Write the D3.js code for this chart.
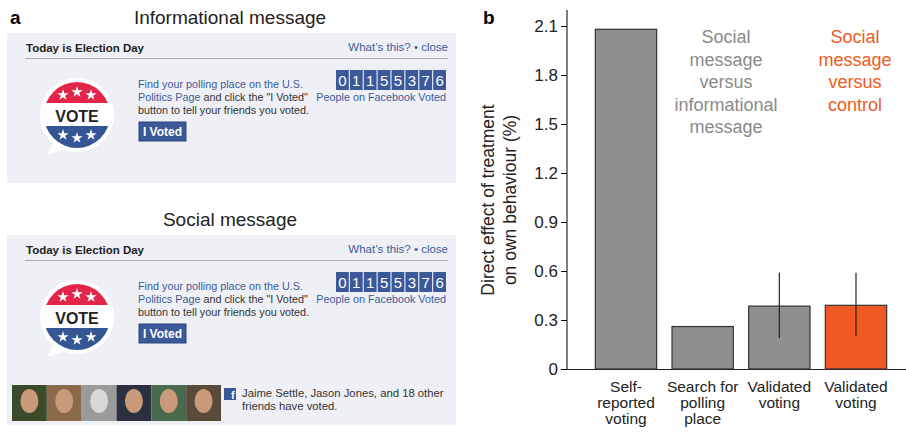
<!DOCTYPE html>
<html><head><meta charset="utf-8">
<script src="https://cdn.jsdelivr.net/npm/d3@7"></script>
<style>body{margin:0;background:#fff;font-family:"Liberation Sans",Arial,sans-serif}</style>
</head><body><div id="chart"></div>
<script>
// Panel b data
const categories = ["Self-reported voting", "Search for polling place", "Validated voting", "Validated voting (control)"];
const catLabels = [["Self-", "reported", "voting"], ["Search for", "polling", "place"], ["Validated", "voting"], ["Validated", "voting"]];
const effects = [2.08, 0.26, 0.385, 0.39];
const errLow = [null, null, 0.19, 0.20];
const errHigh = [null, null, 0.59, 0.59];
const yTicks = [0, 0.3, 0.6, 0.9, 1.2, 1.5, 1.8, 2.1];
const counterDigits = ["0", "1", "1", "5", "5", "3", "7", "6"];
const photoColors = ["#3a4a2a", "#8a6a4a", "#9a9a9a", "#2a3040", "#4a6a50", "#5a4a3a"];

const svg = d3.select("#chart").append("svg")
	.attr("width", 906).attr("height", 433);

const blue = "#3b5998", linkBlue = "#3b5b9a";

// ---- panel a ----
svg.append("text").attr("x", 10).attr("y", 24).style("font-weight", "bold").style("font-size", "19px").text("a");

function drawBadge(g, cx, cy) {
	const r = 33;
	g.append("path")
		.attr("d", `M${cx - 22},${cy + 26} L${cx - 30},${cy + 40} L${cx - 8},${cy + 33} Z`)
		.attr("fill", "#fff");
	g.append("circle").attr("cx", cx).attr("cy", cy).attr("r", r + 4).attr("fill", "#fff");
	const clip = "clip" + cy;
	g.append("clipPath").attr("id", clip).append("circle").attr("cx", cx).attr("cy", cy).attr("r", r);
	const cg = g.append("g").attr("clip-path", `url(#${clip})`);
	cg.append("rect").attr("x", cx - r).attr("y", cy - r).attr("width", 2 * r).attr("height", 21).attr("fill", "#e3254a");
	cg.append("rect").attr("x", cx - r).attr("y", cy + 11).attr("width", 2 * r).attr("height", 23).attr("fill", "#355694");
	const star = d3.symbol().type(d3.symbolStar).size(40);
	[[-14, -20], [0, -23], [14, -20], [-14, 20], [0, 23], [14, 20]].forEach(p => {
		g.append("path").attr("d", star()).attr("fill", "#fff")
			.attr("transform", `translate(${cx + p[0]},${cy + p[1]})`);
	});
	g.append("text").attr("x", cx).attr("y", cy + 7).attr("text-anchor", "middle")
		.style("font-weight", "bold").style("font-size", "16px").attr("fill", "#222").text("VOTE");
}

function drawMessage(top, height, title) {
	svg.append("text").attr("x", 230).attr("y", top - 9).attr("text-anchor", "middle")
		.style("font-size", "19px").attr("fill", "#222").text(title);
	const g = svg.append("g");
	g.append("rect").attr("x", 7).attr("y", top).attr("width", 449).attr("height", height).attr("fill", "#eff0f5");
	g.append("text").attr("x", 26).attr("y", top + 19).style("font-weight", "bold").style("font-size", "11.5px")
		.attr("fill", "#222").text("Today is Election Day");
	g.append("text").attr("x", 448).attr("y", top + 18).attr("text-anchor", "end").style("font-size", "11.5px")
		.attr("fill", linkBlue).text("What’s this? • close");
	g.append("line").attr("x1", 25).attr("x2", 448).attr("y1", top + 25.5).attr("y2", top + 25.5)
		.attr("stroke", "#aab").attr("stroke-width", 1);
	drawBadge(g, 77, top + 82);
	const t = g.append("text").style("font-size", "10.8px").attr("fill", "#333");
	t.append("tspan").attr("x", 138).attr("y", top + 55).attr("fill", linkBlue).text("Find your polling place on the U.S.");
	t.append("tspan").attr("x", 138).attr("y", top + 68).attr("fill", linkBlue).text("Politics Page");
	t.append("tspan").text(" and click the \"I Voted\"");
	t.append("tspan").attr("x", 138).attr("y", top + 81).text("button to tell your friends you voted.");
	g.append("rect").attr("x", 139).attr("y", top + 89).attr("width", 47).attr("height", 19).attr("fill", blue)
		.attr("stroke", "#29447e");
	g.append("text").attr("x", 162.5).attr("y", top + 103).attr("text-anchor", "middle").style("font-weight", "bold")
		.style("font-size", "12px").attr("fill", "#fff").text("I Voted");
	const cx = d3.scaleBand().domain(d3.range(counterDigits.length)).range([336, 446]).paddingInner(0.08);
	g.selectAll(null).data(counterDigits).join("rect")
		.attr("x", (d, i) => cx(i)).attr("y", top + 37).attr("width", cx.bandwidth()).attr("height", 20).attr("fill", blue);
	g.selectAll(null).data(counterDigits).join("text")
		.attr("x", (d, i) => cx(i) + cx.bandwidth() / 2).attr("y", top + 53).attr("text-anchor", "middle")
		.style("font-size", "15px").attr("fill", "#fff").text(d => d);
	g.append("text").attr("x", 446).attr("y", top + 68).attr("text-anchor", "end").style("font-size", "10.8px")
		.attr("fill", linkBlue).text("People on Facebook Voted");
	return g;
}

drawMessage(33, 150, "Informational message");
const social = drawMessage(235, 190, "Social message");

// friend photos
const px = d3.scaleBand().domain(d3.range(photoColors.length)).range([12, 221]);
social.selectAll(null).data(photoColors).join("rect")
	.attr("x", (d, i) => px(i)).attr("y", 385).attr("width", px.bandwidth()).attr("height", 36).attr("fill", d => d);
social.selectAll(null).data(photoColors).join("ellipse")
	.attr("cx", (d, i) => px(i) + px.bandwidth() / 2).attr("cy", 401).attr("rx", 9).attr("ry", 12)
	.attr("fill", (d, i) => i === 2 ? "#d8d8d8" : "#c99a7a");
social.append("rect").attr("x", 224).attr("y", 388).attr("width", 12).attr("height", 12).attr("fill", blue);
social.append("text").attr("x", 231).attr("y", 399).style("font-weight", "bold").style("font-size", "11px")
	.attr("fill", "#fff").text("f");
const ft = social.append("text").style("font-size", "11.3px").attr("fill", "#333");
ft.append("tspan").attr("x", 242).attr("y", 397).text("Jaime Settle, Jason Jones, and 18 other");
ft.append("tspan").attr("x", 242).attr("y", 410).text("friends have voted.");

// ---- panel b ----
svg.append("text").attr("x", 483).attr("y", 24).style("font-weight", "bold").style("font-size", "19px").text("b");

const x = d3.scaleBand().domain(categories).range([580, 902]).paddingInner(0.2).paddingOuter(0.2);
const y = d3.scaleLinear().domain([0, 2.1]).range([369, 26]);

const yAxis = svg.append("g").attr("transform", "translate(567,0)")
	.call(d3.axisLeft(y).tickValues(yTicks).tickSize(6).tickFormat(d => d === 0 ? "0" : d3.format(".1f")(d)));
yAxis.select(".domain").attr("d", "M0,10V369");
yAxis.selectAll("text").style("font-size", "17px").attr("fill", "#222").attr("font-family", "Liberation Sans, Arial");
svg.append("line").attr("x1", 567).attr("x2", 906).attr("y1", 369.5).attr("y2", 369.5).attr("stroke", "#222");

svg.append("text").attr("transform", "translate(494,200) rotate(-90)").attr("text-anchor", "middle")
	.style("font-size", "17.5px").attr("fill", "#222")
	.selectAll("tspan").data(["Direct effect of treatment", "on own behaviour (%)"]).join("tspan")
	.attr("x", 0).attr("dy", (d, i) => i ? 22 : 0).text(d => d);

svg.selectAll(".bar").data(effects).join("rect").attr("class", "bar")
	.attr("x", (d, i) => x(categories[i])).attr("width", x.bandwidth())
	.attr("y", d => y(d)).attr("height", d => y(0) - y(d))
	.attr("fill", (d, i) => i === 3 ? "#f05a22" : "#8f8f8f").attr("stroke", "#333").attr("stroke-width", 1.2);

svg.selectAll(".err").data(effects.map((d, i) => i).filter(i => errLow[i] !== null)).join("line").attr("class", "err")
	.attr("x1", i => x(categories[i]) + x.bandwidth() / 2).attr("x2", i => x(categories[i]) + x.bandwidth() / 2)
	.attr("y1", i => y(errLow[i])).attr("y2", i => y(errHigh[i])).attr("stroke", "#222").attr("stroke-width", 1.2);

catLabels.forEach((lines, i) => {
	svg.append("text").attr("text-anchor", "middle").style("font-size", "15.5px").attr("fill", "#222")
		.selectAll("tspan").data(lines).join("tspan")
		.attr("x", x(categories[i]) + x.bandwidth() / 2).attr("y", (d, j) => 392 + j * 16).text(d => d);
});

function note(lines, cx, color) {
	svg.append("text").attr("text-anchor", "middle").style("font-size", "18px").attr("fill", color)
		.selectAll("tspan").data(lines).join("tspan")
		.attr("x", cx).attr("y", (d, j) => 43 + j * 22.5).text(d => d);
}
note(["Social", "message", "versus", "informational", "message"], 726, "#8a8a8a");
note(["Social", "message", "versus", "control"], 855, "#f05a22");
</script></body></html>
